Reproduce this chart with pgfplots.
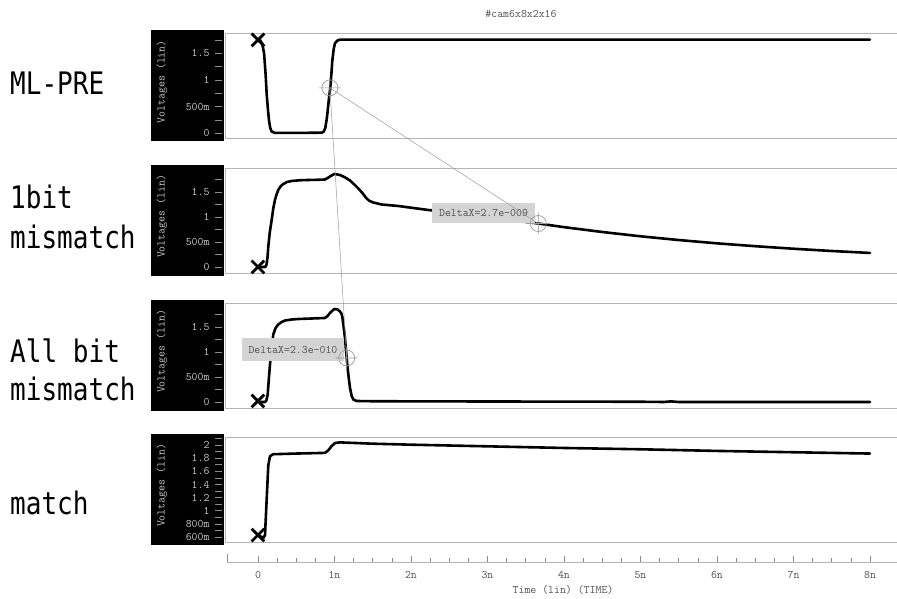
\documentclass[border=0pt]{standalone}
\usepackage{pgfplots}
\pgfplotsset{compat=1.18}
\usepackage{fontspec}
\newfontfamily\jpfont[FakeStretch=0.84]{DejaVu Sans Mono}
\definecolor{boxgray}{HTML}{B4B4B4}
\definecolor{tickgray}{HTML}{8C8C8C}
\definecolor{labgray}{HTML}{C8C8C8}
\definecolor{xlabgray}{HTML}{505050}
\definecolor{cursgray}{HTML}{9A9A9A}
\definecolor{dxfill}{HTML}{D4D4D4}
\pgfdeclareplotmark{cursor}{%
  \pgfpathcircle{\pgfpointorigin}{8pt}%
  \pgfpathmoveto{\pgfpoint{-11pt}{0pt}}\pgfpathlineto{\pgfpoint{11pt}{0pt}}%
  \pgfpathmoveto{\pgfpoint{0pt}{-11pt}}\pgfpathlineto{\pgfpoint{0pt}{11pt}}%
  \pgfusepathqstroke}
\newcommand{\ttsz}{\ttfamily\fontsize{11.5}{12}\selectfont}
\pgfplotsset{
  panel/.style={
    width=673pt, height=105pt, scale only axis, anchor=south west,
    xmin=-0.431, xmax=8.366,
    axis line style={draw=boxgray, line width=0.9pt},
    xtick=\empty, ytick pos=left,
    tick align=outside,
    major tick length=7pt, minor tick length=7pt,
    tick style={draw=tickgray, line width=0.6pt, xshift=-3pt},
    yticklabel style={font=\ttsz, text=labgray, xshift=-5pt},
    clip=false,
  },
  curve/.style={black, line width=2.6pt, line join=round, line cap=round, no marks},
  xm/.style={only marks, mark=x, mark size=9pt, black, mark options={line width=2.8pt}},
  cur/.style={only marks, mark=cursor, draw=cursgray, line width=0.7pt},
}
\begin{document}
\begin{tikzpicture}
\useasboundingbox (0pt,0pt) rectangle (897pt,599pt);
% black y-axis panels
\fill[black] (151pt,458pt) rectangle (224pt,569pt);
\fill[black] (151pt,323pt) rectangle (224pt,434pt);
\fill[black] (151pt,188pt) rectangle (224pt,299pt);
\fill[black] (151pt,54pt) rectangle (224pt,165pt);
\foreach \yy in {517.3,382.5,247.5,113.5}{
  \node[rotate=90, font=\ttsz, text=labgray, inner sep=0pt] at (162pt,\yy pt) {Voltages (lin)};
}
% left labels
\begin{scope}[every node/.style={anchor=base west, inner sep=0pt, font=\jpfont\fontsize{31}{31}\selectfont}]
\node at (10pt,504pt) {ML-PRE};
\node at (10pt,390pt) {1bit};
\node at (10pt,350pt) {mismatch};
\node at (10pt,236pt) {All bit};
\node at (10pt,198pt) {mismatch};
\node at (10pt,84pt) {match};
\end{scope}
% title
\node[font=\ttsz, text=xlabgray] at (521pt,585pt) {\#cam6x8x2x16};

% Panel 1: ML-PRE
\begin{axis}[panel, at={(225pt,461pt)}, ymin=-0.09, ymax=1.88,
  ytick={0,0.5,1,1.5}, yticklabels={0,500m\hspace{6pt},1,1.5},
  minor ytick={0.25,0.75,1.25,1.75}]
\addplot[curve] coordinates {
(0,1.755) (0.03,1.74) (0.055,1.68) (0.08,1.50) (0.1,1.1) (0.114,0.73) (0.13,0.45)
(0.144,0.24) (0.16,0.10) (0.179,0.03) (0.222,0.005) (0.5,0.005) (0.833,0.01)
(0.86,0.03) (0.88,0.10) (0.9,0.28) (0.911,0.42) (0.93,0.68) (0.945,0.85)
(0.96,1.12) (0.971,1.35) (0.99,1.58) (1.007,1.69) (1.04,1.74) (1.072,1.755) (8.0,1.755)};
\addplot[xm] coordinates {(0,1.75)};
\addplot[cur] coordinates {(0.94,0.85)};
\coordinate (c1) at (axis cs:0.94,0.85);
\end{axis}

% Panel 2: 1bit mismatch
\begin{axis}[panel, at={(225pt,326pt)}, ymin=-0.12, ymax=1.98,
  ytick={0,0.5,1,1.5}, yticklabels={0,500m\hspace{6pt},1,1.5},
  minor ytick={0.25,0.75,1.25,1.75}]
\addplot[curve] coordinates {
(0,0) (0.092,0.0) (0.105,0.02) (0.114,0.07) (0.125,0.2) (0.135,0.41) (0.155,0.7)
(0.179,0.94) (0.2,1.17) (0.222,1.34) (0.245,1.46) (0.265,1.54) (0.3,1.62) (0.331,1.66)
(0.38,1.70) (0.44,1.72) (0.55,1.735) (0.658,1.74) (0.8,1.745) (0.876,1.75) (0.91,1.78)
(0.941,1.81) (0.997,1.86) (1.04,1.85) (1.072,1.84) (1.14,1.79) (1.203,1.73) (1.26,1.65)
(1.312,1.57) (1.37,1.47) (1.42,1.37) (1.46,1.32) (1.507,1.29) (1.617,1.25) (1.834,1.22)
(2.226,1.14) (2.6,1.08) (3.0,1.0) (3.3,0.94) (3.664,0.87) (4.0,0.797) (4.5,0.70)
(5.0,0.614) (5.5,0.539) (6.0,0.473) (6.5,0.416) (7.0,0.365) (7.5,0.32) (8.0,0.281)};
\addplot[xm] coordinates {(0,0)};
\node[fill=dxfill, minimum width=103pt, minimum height=20pt, inner sep=0pt,
  font=\ttsz, text=xlabgray] at (axis cs:2.948,1.08) {DeltaX=2.7e-009};
\addplot[cur] coordinates {(3.664,0.87)};
\coordinate (c2) at (axis cs:3.664,0.87);
\end{axis}

% Panel 3: All bit mismatch
\begin{axis}[panel, at={(225pt,191pt)}, ymin=-0.12, ymax=1.98,
  ytick={0,0.5,1,1.5}, yticklabels={0,500m\hspace{6pt},1,1.5},
  minor ytick={0.25,0.75,1.25,1.75}]
\addplot[curve] coordinates {
(0,0) (0.092,0.0) (0.11,0.03) (0.127,0.15) (0.14,0.42) (0.157,0.75) (0.18,1.1)
(0.2,1.35) (0.23,1.48) (0.265,1.55) (0.31,1.60) (0.353,1.63) (0.44,1.65) (0.527,1.66)
(0.7,1.67) (0.876,1.68) (0.91,1.72) (0.941,1.78) (0.997,1.86) (1.04,1.85) (1.072,1.81)
(1.09,1.77) (1.102,1.71) (1.12,1.50) (1.137,1.28) (1.15,1.05) (1.167,0.75) (1.185,0.50)
(1.203,0.28) (1.225,0.12) (1.246,0.05) (1.29,0.02) (1.5,0.015) (3,0.01) (5,0.005)
(5.3,0.0) (5.4,0.012) (5.5,0.0) (8,0.0)};
\addplot[xm] coordinates {(0,0.02)};
\node[fill=dxfill, minimum width=102pt, minimum height=23pt, inner sep=0pt,
  font=\ttsz, text=xlabgray] at (axis cs:0.4575,1.05) {DeltaX=2.3e-010};
\addplot[cur] coordinates {(1.16,0.88)};
\coordinate (c3) at (axis cs:1.16,0.88);
\end{axis}

% Panel 4: match
\begin{axis}[panel, at={(225pt,57pt)}, ymin=0.524, ymax=2.122,
  ytick={0.6,0.8,1,1.2,1.4,1.6,1.8,2},
  yticklabels={600m\hspace{6pt},800m\hspace{6pt},1,1.2,1.4,1.6,1.8,2},
  minor ytick={0.7,0.9,1.1,1.3,1.5,1.7,1.9,2.1}]
\addplot[curve] coordinates {
(0,0.63) (0.05,0.60) (0.07,0.585) (0.092,0.63) (0.114,1.18) (0.125,1.45) (0.135,1.69)
(0.157,1.83) (0.2,1.86) (0.5,1.87) (0.876,1.88) (0.92,1.92) (0.96,1.98) (1.007,2.03)
(1.072,2.04) (1.5,2.02) (2,2.005) (3,1.98) (4,1.955) (5,1.935) (6,1.91) (7,1.89) (8,1.87)};
\addplot[xm] coordinates {(0,0.63)};
\end{axis}

% bottom time axis
\begin{axis}[at={(227pt,37pt)}, anchor=south west, width=671pt, height=20pt, scale only axis,
  xmin=-0.405, xmax=8.366, ymin=0, ymax=1,
  axis x line=bottom, axis y line=none,
  x axis line style={-, draw=boxgray, line width=0.8pt},
  xtick={0,1,2,3,4,5,6,7,8}, xticklabels={0,1n,2n,3n,4n,5n,6n,7n,8n},
  minor x tick num=3, tick align=inside,
  major tick length=6pt, minor tick length=4pt,
  tick style={draw=tickgray, line width=0.6pt},
  extra x ticks={-0.40}, extra x tick labels={},
  extra tick style={major tick length=8pt},
  xticklabel style={font=\ttsz, text=xlabgray, yshift=-6pt}]
\addplot[draw=none] coordinates {(0,0.5)};
\end{axis}
\node[font=\ttsz, text=xlabgray] at (563pt,9pt) {Time (lin) (TIME)};

% cursor connection lines
\draw[cursgray, line width=0.5pt] (c1) -- (c2);
\draw[cursgray, line width=0.5pt] (c1) -- (c3);
\end{tikzpicture}
\end{document}
